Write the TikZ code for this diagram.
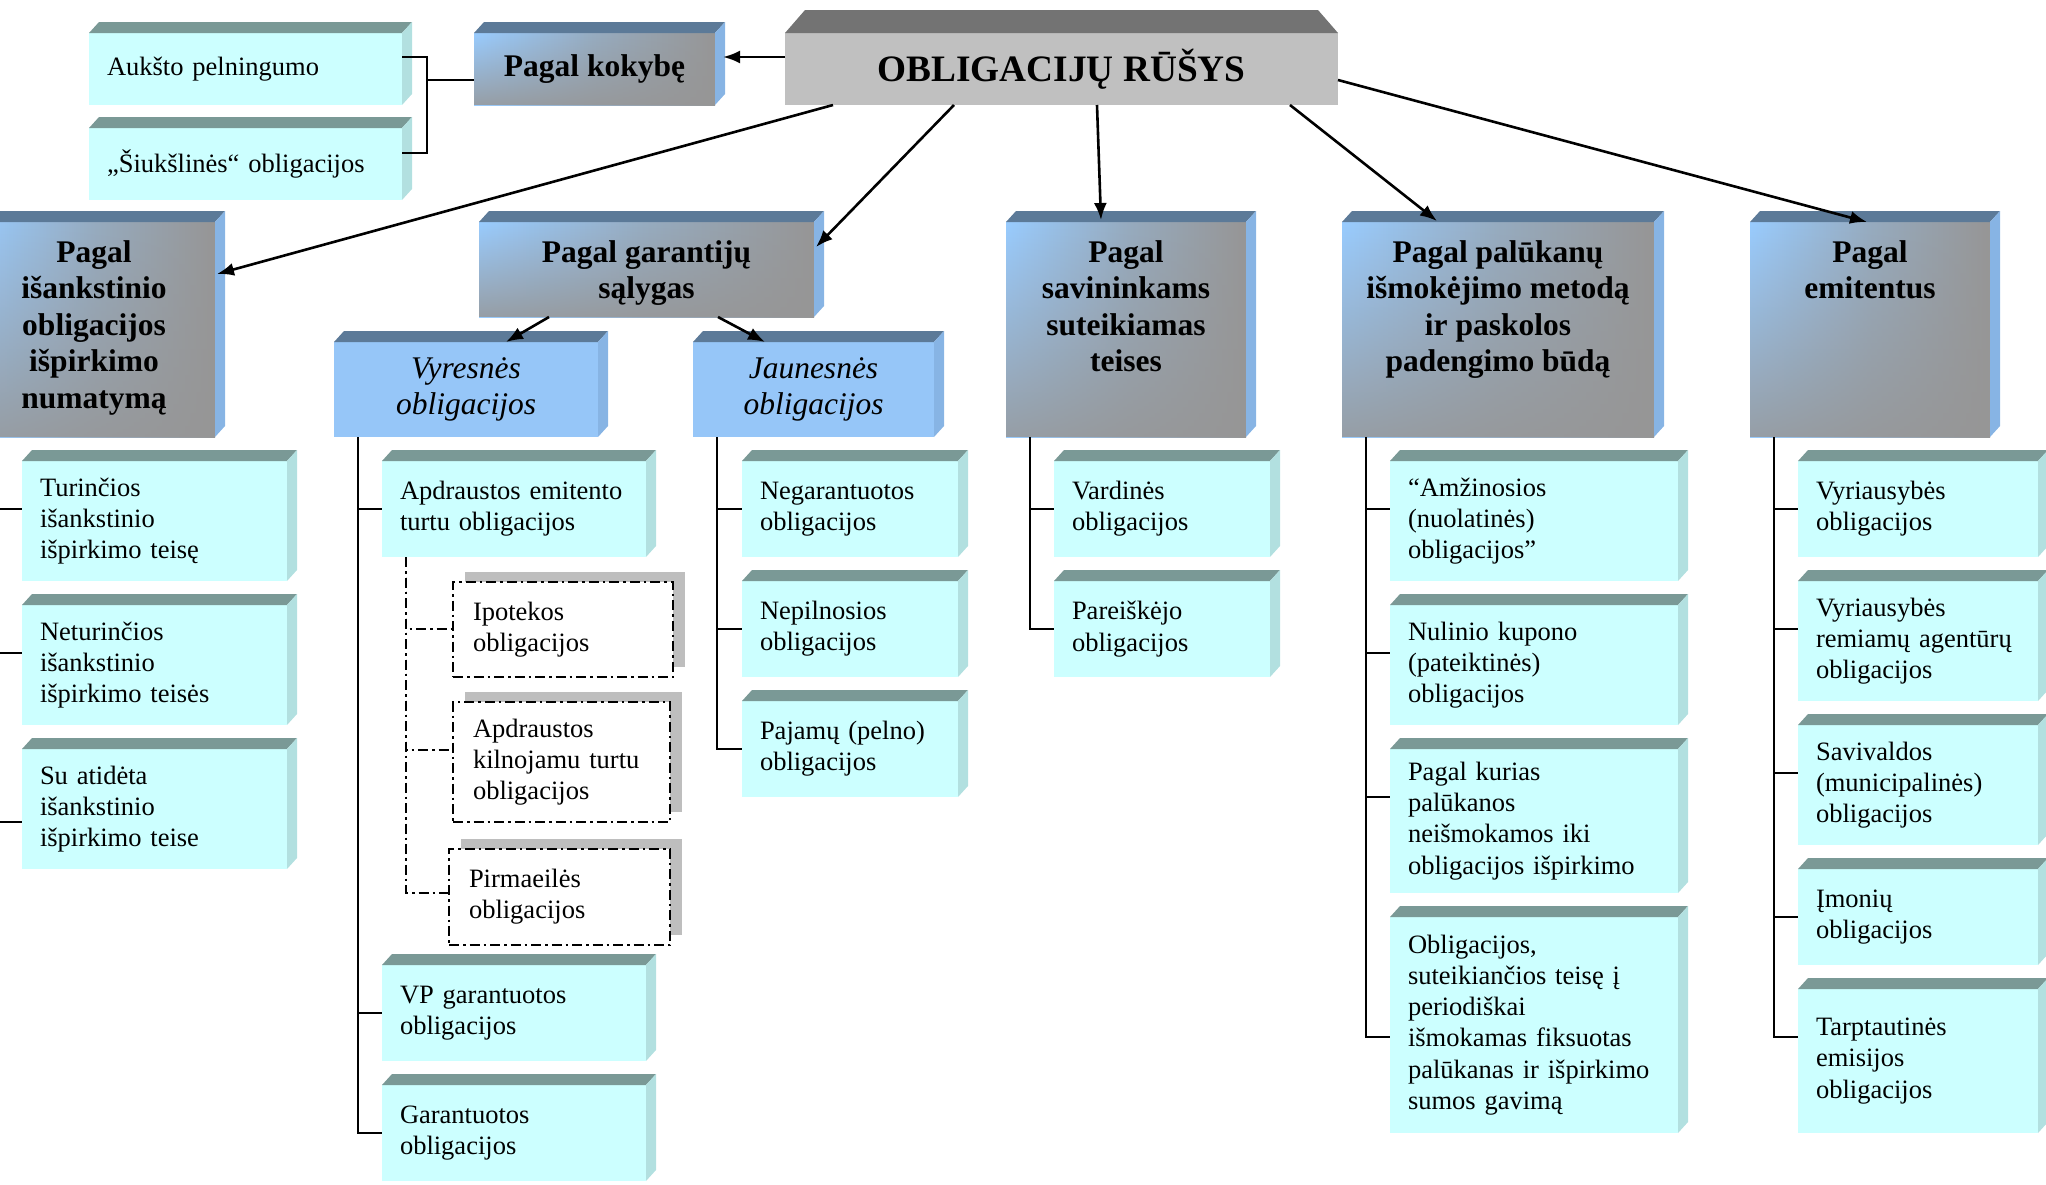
\documentclass[tikz,border=0pt]{standalone}
\usepackage{fontspec}
\setmainfont{Liberation Serif}
\usetikzlibrary{arrows.meta,calc,shadows,fadings}
\tikzfading[name=fade down, top color=transparent!100, bottom color=transparent!15]

\begin{document}
\begin{tikzpicture}[x=1pt,y=-1pt,>={Latex[length=17pt,width=13pt]}]
\tikzset{
  conn/.style={line width=2.6pt},
  dconn/.style={line width=2.6pt, dash pattern=on 10pt off 4pt on 2.5pt off 4pt},
  lbox/.style={fill=cyanfront, anchor=north west, outer sep=0pt, inner xsep=18pt, inner ysep=0pt,
    minimum width=#1, text width=#1-36pt, align=left, font=\fontsize{26.5}{31.3}\selectfont},
  dbox/.style={fill=white, draw, dconn, anchor=north west, outer sep=0pt, inner xsep=20pt, inner ysep=0pt,
    minimum width=#1, text width=#1-40pt, align=left, font=\fontsize{26.5}{31.3}\selectfont,
    general shadow={fill=shadowgray, shadow xshift=12pt, shadow yshift=10pt}},
  catbox/.style={left color=catblue, right color=catgray, middle color=catblue!40!catgray,
    anchor=north west, outer sep=0pt, inner sep=0pt},
  cattext/.style={anchor=north, inner sep=0pt, align=center, font=\fontsize{31.5}{36.5}\selectfont\bfseries},
  subbox/.style={fill=subblue, anchor=north west, outer sep=0pt, inner sep=0pt, align=center,
    font=\fontsize{31.5}{36.5}\selectfont\itshape},
  rootbox/.style={fill=rootfront, anchor=north west, outer sep=0pt, inner sep=0pt,
    font=\fontsize{37.3}{44}\selectfont\bfseries}
}

\definecolor{cyanfront}{RGB}{204,255,255}
\definecolor{cyantop}{RGB}{122,153,150}
\definecolor{cyanside}{RGB}{178,224,224}
\definecolor{catblue}{RGB}{153,204,255}
\definecolor{catgray}{RGB}{150,150,150}
\definecolor{cattop}{RGB}{92,122,152}
\definecolor{catside}{RGB}{135,180,228}
\definecolor{subblue}{RGB}{150,198,248}
\definecolor{rootfront}{RGB}{192,192,192}
\definecolor{roottop}{RGB}{115,115,115}
\definecolor{shadowgray}{RGB}{190,190,190}

\useasboundingbox (0,0) rectangle (2046,1184);

\node[rootbox, minimum width=553pt, minimum height=72pt] (root) at (785,33) {OBLIGACIJŲ RŪŠYS};
\node[catbox, minimum width=241pt, minimum height=72pt] (kok) at (474,33) {};
\node[lbox=313pt, minimum height=72pt] (auk) at (89,33) {Aukšto pelningumo};
\node[lbox=313pt, minimum height=72pt] (siuk) at (89,128) {„Šiukšlinės“ obligacijos};

\node[catbox, minimum width=242pt, minimum height=215pt] (isank) at (-27,222) {};
\node[catbox, minimum width=335pt, minimum height=95pt] (gar) at (479,222) {};
\node[catbox, minimum width=240pt, minimum height=215pt] (sav) at (1006,222) {};
\node[catbox, minimum width=312pt, minimum height=215pt] (pal) at (1342,222) {};
\node[catbox, minimum width=240pt, minimum height=215pt] (emit) at (1750,222) {};

\node[subbox, minimum width=264pt, minimum height=95pt] (vyres) at (334,342) {Vyresnės\\obligacijos};
\node[subbox, minimum width=241pt, minimum height=95pt] (jaun) at (693,342) {Jaunesnės\\obligacijos};

\foreach \n/\py/\h/\txt in {tur/461/120pt/{Turinčios\\išankstinio\\išpirkimo teisę},
    netur/605/120pt/{Neturinčios\\išankstinio\\išpirkimo teisės},
    atid/749/120pt/{Su atidėta\\išankstinio\\išpirkimo teise}}
  \node[lbox=265pt, minimum height=\h] (\n) at (22,\py) {\txt};
\foreach \n/\py/\txt in {apdr/461/{Apdraustos emitento\\turtu obligacijos},
    vp/965/{VP garantuotos\\obligacijos}, garant/1085/{Garantuotos\\obligacijos}}
  \node[lbox=264pt, minimum height=96pt] (\n) at (382,\py) {\txt};
\foreach \n/\py/\txt in {neg/461/{Negarantuotos\\obligacijos},
    nepil/581/{Nepilnosios\\obligacijos}, paj/701/{Pajamų (pelno)\\obligacijos}}
  \node[lbox=216pt, minimum height=96pt] (\n) at (742,\py) {\txt};
\foreach \n/\py/\txt in {vard/461/{Vardinės\\obligacijos}, pareisk/581/{Pareiškėjo\\obligacijos}}
  \node[lbox=216pt, minimum height=96pt] (\n) at (1054,\py) {\txt};
\foreach \n/\py/\h/\txt in {amz/461/120pt/{“Amžinosios\\(nuolatinės)\\obligacijos”},
    nul/605/120pt/{Nulinio kupono\\(pateiktinės)\\obligacijos},
    kur/749/144pt/{Pagal kurias\\palūkanos\\neišmokamos iki\\obligacijos išpirkimo},
    fiks/917/216pt/{Obligacijos,\\suteikiančios teisę į\\periodiškai\\išmokamas fiksuotas\\palūkanas ir išpirkimo\\sumos gavimą}}
  \node[lbox=288pt, minimum height=\h] (\n) at (1390,\py) {\txt};
\foreach \n/\py/\h/\txt in {vyriaus/461/96pt/{Vyriausybės\\obligacijos},
    agent/581/120pt/{Vyriausybės\\remiamų agentūrų\\obligacijos},
    sav2/725/120pt/{Savivaldos\\(municipalinės)\\obligacijos},
    imon/869/96pt/{Įmonių\\obligacijos},
    tarpt/989/144pt/{Tarptautinės\\emisijos\\obligacijos}}
  \node[lbox=240pt, minimum height=\h] (\n) at (1798,\py) {\txt};

\node[dbox=220pt, minimum height=95pt] (ipot) at (453,582) {Ipotekos\\obligacijos};
\node[dbox=217pt, minimum height=120pt] (kiln) at (453,702) {Apdraustos\\kilnojamu turtu\\obligacijos};
\node[dbox=221pt, minimum height=96pt] (pirm) at (449,849) {Pirmaeilės\\obligacijos};

\fill[roottop] (root.north west) -- ++(20,-23) -- ($(root.north east)+(-20,-23)$) -- (root.north east) -- cycle;
\foreach \n in {auk,siuk,tur,netur,atid,apdr,vp,garant,neg,nepil,paj,vard,pareisk,amz,nul,kur,fiks,vyriaus,agent,sav2,imon,tarpt}{
  \fill[cyantop] (\n.north west) -- ++(10,-11) -- ($(\n.north east)+(10,-11)$) -- (\n.north east) -- cycle;
  \fill[cyanside] (\n.north east) -- ++(10,-11) -- ($(\n.south east)+(10,-11)$) -- (\n.south east) -- cycle;
}
\foreach \n in {kok,isank,gar,sav,pal,emit}
  \fill[catgray, path fading=fade down] (\n.north west) rectangle (\n.south east);
\foreach \n in {kok,isank,gar,sav,pal,emit,vyres,jaun}{
  \fill[cattop] (\n.north west) -- ++(10,-11) -- ($(\n.north east)+(10,-11)$) -- (\n.north east) -- cycle;
  \fill[catside] (\n.north east) -- ++(10,-11) -- ($(\n.south east)+(10,-11)$) -- (\n.south east) -- cycle;
}

\node[cattext, anchor=center] (kokT) at (kok) {Pagal kokybę};
\node[cattext] (isankT) at ($(isank.north)+(0,18)$) {Pagal\\išankstinio\\obligacijos\\išpirkimo\\numatymą};
\node[cattext] (garT) at ($(gar.north)+(0,18)$) {Pagal garantijų\\sąlygas};
\node[cattext] (savT) at ($(sav.north)+(0,18)$) {Pagal\\savininkams\\suteikiamas\\teises};
\node[cattext] (palT) at ($(pal.north)+(0,18)$) {Pagal palūkanų\\išmokėjimo metodą\\ir paskolos\\padengimo būdą};
\node[cattext] (emitT) at ($(emit.north)+(0,18)$) {Pagal\\emitentus};

\coordinate (kokB) at ($(kok.north west)+(-47,47)$);
\draw[conn] ($(auk.north east)+(0,24)$) -| (kokB);
\draw[conn] ($(siuk.north east)+(0,25)$) -| (kokB);
\draw[conn] (kokB) -- (kokB -| kok.west);

\draw[conn,->] ($(root.north west)+(0,24)$) -- ($(kok.north east)+(8,24)$);
\draw[conn,->] ($(root.south west)+(48,0)$) -- ($(isank.north east)+(2,52)$);
\draw[conn,->] ($(root.south west)+(169,0)$) -- ($(gar.north east)+(2,25)$);
\draw[conn,->] ($(root.south west)+(312,0)$) -- ($(sav.north west)+(95,-2)$);
\draw[conn,->] ($(root.south west)+(505,0)$) -- ($(pal.north west)+(95,-1)$);
\draw[conn,->] ($(root.north east)+(0,47)$) -- ($(emit.north west)+(117,0)$);
\draw[conn,->] ($(gar.south west)+(70,0)$) -- ($(vyres.north west)+(172,0)$);
\draw[conn,->] ($(gar.south west)+(239,0)$) -- ($(jaun.north west)+(72,0)$);

\foreach \t/\b/\d in {isank/tur/48, isank/netur/48, isank/atid/73, vyres/apdr/48, vyres/vp/48, vyres/garant/48,
    jaun/neg/48, jaun/nepil/48, jaun/paj/48, sav/vard/48, sav/pareisk/48,
    pal/amz/48, pal/nul/48, pal/kur/48, pal/fiks/120,
    emit/vyriaus/48, emit/agent/48, emit/sav2/48, emit/imon/48, emit/tarpt/48}
  \draw[conn] ($(\t.south west)+(24,0)$) |- ($(\b.north west)+(0,\d)$);

\draw[dconn] ($(apdr.south west)+(24,0)$) |- ($(pirm.north west)+(0,44)$);
\foreach \b/\d in {ipot/47, kiln/48}
  \draw[dconn] ($(apdr.south west)+(24,0)$) |- ($(\b.north west)+(0,\d)$);
\end{tikzpicture}
\end{document}
